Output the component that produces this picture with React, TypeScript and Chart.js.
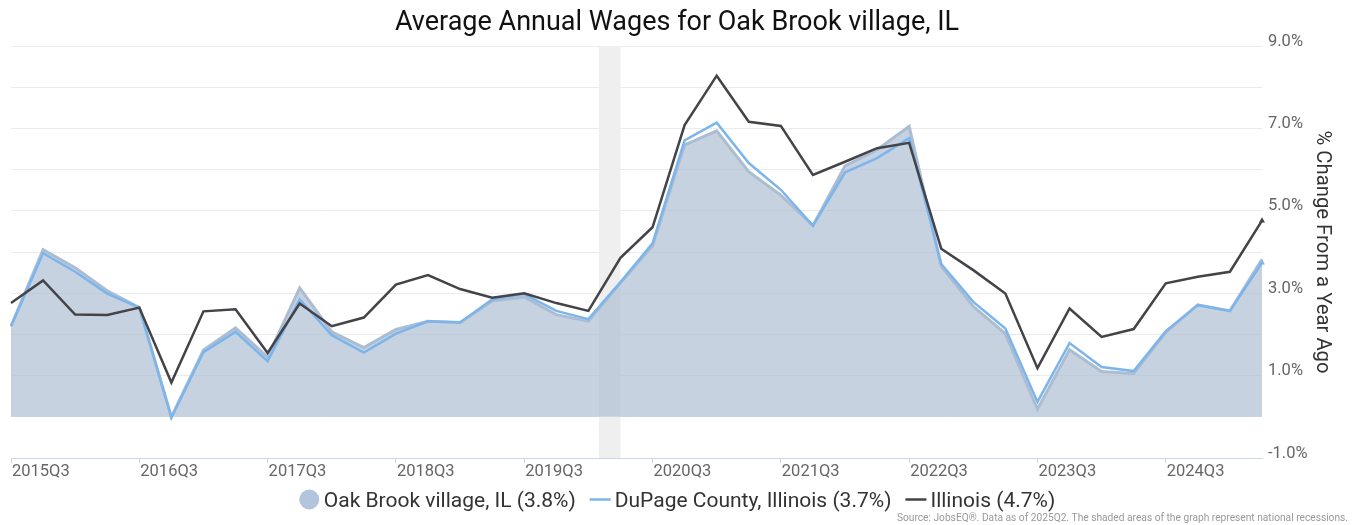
import React, { useEffect, useRef } from "react";
import { Chart, registerables } from "chart.js";

Chart.register(...registerables);

const quarters = [
  "2015Q3", "2015Q4", "2016Q1", "2016Q2", "2016Q3", "2016Q4", "2017Q1", "2017Q2",
  "2017Q3", "2017Q4", "2018Q1", "2018Q2", "2018Q3", "2018Q4", "2019Q1", "2019Q2",
  "2019Q3", "2019Q4", "2020Q1", "2020Q2", "2020Q3", "2020Q4", "2021Q1", "2021Q2",
  "2021Q3", "2021Q4", "2022Q1", "2022Q2", "2022Q3", "2022Q4", "2023Q1", "2023Q2",
  "2023Q3", "2023Q4", "2024Q1", "2024Q2", "2024Q3", "2024Q4", "2025Q1", "2025Q2",
];

const oakBrook = [
  2.2, 4.06, 3.62, 3.06, 2.65, 0.0, 1.62, 2.16, 1.45, 3.13,
  2.06, 1.68, 2.12, 2.32, 2.29, 2.81, 2.91, 2.48, 2.32, 3.25,
  4.15, 6.6, 6.94, 5.95, 5.38, 4.64, 6.09, 6.48, 7.05, 3.66,
  2.68, 2.02, 0.19, 1.63, 1.1, 1.05, 2.05, 2.72, 2.57, 3.82,
];

const duPage = [
  2.2, 3.97, 3.52, 2.99, 2.65, -0.02, 1.57, 2.06, 1.35, 2.85,
  1.98, 1.56, 2.02, 2.32, 2.29, 2.85, 2.98, 2.57, 2.37, 3.27,
  4.21, 6.71, 7.14, 6.16, 5.51, 4.64, 5.93, 6.28, 6.76, 3.71,
  2.79, 2.14, 0.36, 1.79, 1.21, 1.11, 2.08, 2.71, 2.57, 3.74,
];

const illinois = [
  2.76, 3.31, 2.48, 2.47, 2.65, 0.83, 2.56, 2.61, 1.55, 2.75,
  2.2, 2.41, 3.21, 3.44, 3.1, 2.89, 3.0, 2.76, 2.57, 3.86,
  4.6, 7.08, 8.28, 7.16, 7.06, 5.87, 6.19, 6.52, 6.65, 4.08,
  3.56, 2.99, 1.18, 2.63, 1.94, 2.13, 3.24, 3.4, 3.52, 4.76,
];

const seriesLabels = [
  "Oak Brook village, IL (3.8%)",
  "DuPage County, Illinois (3.7%)",
  "Illinois (4.7%)",
];
const legendKinds = ["circle", "line", "line"];

// national recession, in quarter-index units on the category axis
const recessionStart = [18.33];
const recessionEnd = [19.0];

const yMin = -1;
const yMax = 9;

const titleText = "Average Annual Wages for Oak Brook village, IL";
const axisTitleText = "% Change From a Year Ago";
const sourceText =
  "Source: JobsEQ®. Data as of 2025Q2. The shaded areas of the graph represent national recessions.";

const W = 1358;
const H = 525;

const COLORS = {
  areaFill: "rgba(174,191,211,0.7)",
  areaLine: "rgba(168,186,208,0.95)",
  legendCircle: "#b3c5dc",
  blue: "#7cb5ec",
  dark: "#434348",
  grid: "#ebebeb",
  axis: "#ccd6eb",
  tick: "#666666",
  band: "#efefef",
};

const lastMarker = (n: number) => Array.from({ length: n }, (_, i) => (i === n - 1 ? 3.5 : 0));

const overlayPlugin = {
  id: "overlay",
  beforeDatasetsDraw(chart: any) {
    const { ctx, chartArea, scales } = chart;
    const xs = scales.x;
    ctx.save();
    ctx.fillStyle = COLORS.band;
    for (let i = 0; i < recessionStart.length; i++) {
      const x0 = xs.getPixelForValue(recessionStart[i]);
      const x1 = xs.getPixelForValue(recessionEnd[i]);
      ctx.fillRect(x0, chartArea.top, x1 - x0, chartArea.bottom - chartArea.top);
    }
    ctx.restore();
  },
  afterDraw(chart: any) {
    const { ctx } = chart;
    ctx.save();
    // title
    ctx.font = '27px Roboto, "Liberation Sans", sans-serif';
    ctx.fillStyle = "#111111";
    ctx.textAlign = "center";
    ctx.textBaseline = "alphabetic";
    ctx.fillText(titleText, 677, 30);

    // legend
    ctx.font = '21px Roboto, "Liberation Sans", sans-serif';
    ctx.textAlign = "left";
    const markerW = 21;
    const gapText = 4;
    const gapItem = 14;
    const ds = chart.data.datasets;
    const widths = ds.map((d: any) => markerW + gapText + ctx.measureText(d.label).width);
    const total = widths.reduce((a: number, b: number) => a + b, 0) + gapItem * (ds.length - 1);
    let x = 677 - total / 2;
    const cy = 499.5;
    ds.forEach((d: any, i: number) => {
      if (legendKinds[i] === "circle") {
        ctx.fillStyle = COLORS.legendCircle;
        ctx.beginPath();
        ctx.arc(x + 10.5, cy, 10, 0, Math.PI * 2);
        ctx.fill();
      } else {
        ctx.strokeStyle = d.borderColor;
        ctx.lineWidth = 2.5;
        ctx.beginPath();
        ctx.moveTo(x, cy);
        ctx.lineTo(x + markerW, cy);
        ctx.stroke();
      }
      ctx.fillStyle = "#333333";
      ctx.textBaseline = "alphabetic";
      ctx.fillText(d.label, x + markerW + gapText, 507);
      x += widths[i] + gapItem;
    });

    // source
    ctx.font = '10.2px Roboto, "Liberation Sans", sans-serif';
    ctx.fillStyle = "#999999";
    ctx.textAlign = "right";
    ctx.fillText(sourceText, 1348, 521);
    ctx.restore();
  },
};

export default function App() {
  const ref = useRef<HTMLCanvasElement>(null);

  useEffect(() => {
    const canvas = ref.current;
    if (!canvas) return;
    const chart = new Chart(canvas, {
      type: "line",
      data: {
        labels: quarters,
        datasets: [
          {
            label: seriesLabels[0],
            data: oakBrook,
            fill: "origin",
            backgroundColor: COLORS.areaFill,
            borderColor: COLORS.areaLine,
            borderWidth: 3,
            pointRadius: 0,
            tension: 0,
            order: 3,
          },
          {
            label: seriesLabels[1],
            data: duPage,
            fill: false,
            borderColor: COLORS.blue,
            backgroundColor: COLORS.blue,
            borderWidth: 2.5,
            pointRadius: lastMarker(duPage.length),
            pointStyle: "triangle",
            pointBorderWidth: 0,
            tension: 0,
            order: 2,
          },
          {
            label: seriesLabels[2],
            data: illinois,
            fill: false,
            borderColor: COLORS.dark,
            backgroundColor: COLORS.dark,
            borderWidth: 2.5,
            pointRadius: lastMarker(illinois.length),
            pointStyle: "triangle",
            pointBorderWidth: 0,
            tension: 0,
            order: 1,
          },
        ],
      },
      options: {
        responsive: false,
        animation: false,
        layout: { padding: { left: 11, top: 46, right: 0, bottom: 0 } },
        plugins: {
          legend: { display: false },
          title: { display: false },
          tooltip: { enabled: false },
        },
        scales: {
          x: {
            type: "category",
            offset: false,
            grid: {
              drawOnChartArea: false,
              drawTicks: true,
              tickLength: 5,
              color: (c: any) =>
                quarters[c.index] && quarters[c.index].endsWith("Q3") ? COLORS.axis : "rgba(0,0,0,0)",
            },
            border: { display: true, color: COLORS.axis, width: 1 },
            ticks: {
              autoSkip: false,
              maxRotation: 0,
              minRotation: 0,
              align: "start",
              padding: -1,
              labelOffset: 1,
              color: COLORS.tick,
              font: { family: "Roboto", size: 16.5 },
              callback: (_v: any, i: number) => (quarters[i].endsWith("Q3") ? quarters[i] : ""),
            },
            afterFit: (s: any) => {
              s.height = 67;
            },
          },
          y: {
            position: "right",
            min: yMin,
            max: yMax,
            grid: {
              drawTicks: false,
              color: (c: any) => (c.tick && c.tick.value === yMin ? COLORS.axis : COLORS.grid),
            },
            border: { display: false },
            ticks: {
              stepSize: 1,
              padding: 6,
              labelOffset: -4.5,
              color: COLORS.tick,
              font: { family: "Roboto", size: 16.5 },
              callback: (v: any) => {
                const n = Number(v);
                return Math.round(n) % 2 !== 0 ? n.toFixed(1) + "%" : "";
              },
            },
            title: {
              display: true,
              text: axisTitleText,
              color: "#333333",
              font: { family: "Roboto", size: 20.3 },
              padding: { top: 24, bottom: 0 },
            },
            afterFit: (s: any) => {
              s.width = 96;
            },
          },
        },
      },
      plugins: [overlayPlugin],
    });
    return () => chart.destroy();
  }, []);

  return (
    <div style={{ position: "absolute", left: 0, top: 0, width: W, height: H, background: "#fff" }}>
      <canvas ref={ref} width={W} height={H} style={{ display: "block" }} />
    </div>
  );
}
